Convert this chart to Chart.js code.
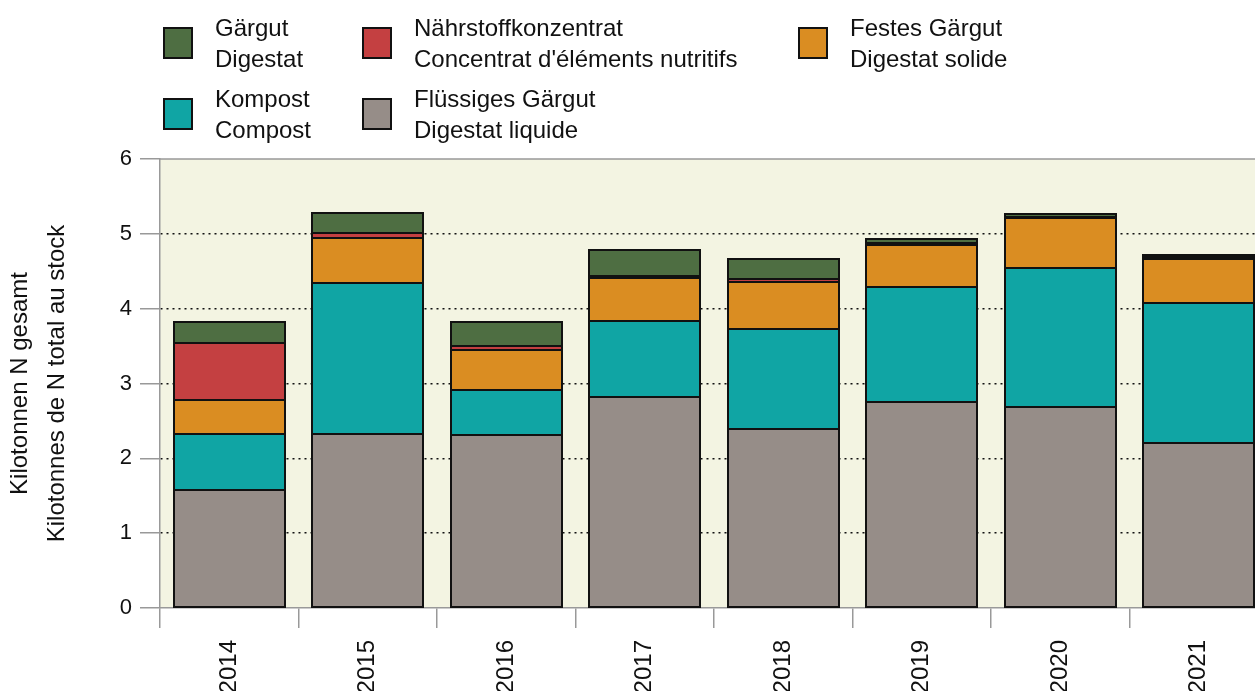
<!DOCTYPE html>
<html>
<head>
<meta charset="utf-8">
<script src="https://cdn.jsdelivr.net/npm/chart.js@4.4.1/dist/chart.umd.min.js"></script>
<style>
  body { margin: 0; overflow: hidden; background: #fff; font-family: "Liberation Sans", Arial, sans-serif; }
  #wrap { position: relative; width: 1270px; height: 691px; }
  #legend { position: absolute; left: 163px; top: 12px; display: grid;
            grid-template-columns: 199px 436px 300px; grid-auto-rows: 71px; }
  .item { display: flex; align-items: flex-start; }
  .sw { width: 26px; height: 28px; border: 2px solid #111; margin-top: 15px; margin-right: 22px; flex: none; }
  .txt { font-size: 24px; line-height: 31px; color: #111; white-space: nowrap; }
</style>
</head>
<body>
<div id="wrap">
  <canvas id="chart" width="1270" height="691"></canvas>
  <div id="legend"></div>
</div>
<script>
// years on the x axis
const years = ['2014', '2015', '2016', '2017', '2018', '2019', '2020', '2021']

// series, from bottom of the stack to the top (kilotonnes N)
const fluessig = [1.58, 2.32, 2.31, 2.82, 2.39, 2.75, 2.68, 2.21]
const kompost = [0.75, 2.02, 0.60, 1.02, 1.34, 1.54, 1.86, 1.87]
const festes = [0.45, 0.61, 0.54, 0.57, 0.63, 0.56, 0.67, 0.58]
const naehrstoff = [0.76, 0.06, 0.05, 0.03, 0.03, 0.03, 0.02, 0.03]
const gaergut = [0.28, 0.27, 0.32, 0.34, 0.28, 0.05, 0.03, 0.03]

// labels (German / French) in the same order
const labelsDe = ['Flüssiges Gärgut', 'Kompost', 'Festes Gärgut', 'Nährstoffkonzentrat', 'Gärgut']
const labelsFr = ['Digestat liquide', 'Compost', 'Digestat solide', "Concentrat d'éléments nutritifs", 'Digestat']
const colors = ['#968d88', '#10a5a4', '#da8d22', '#c44041', '#4e6e42']

const yTicks = [0, 1, 2, 3, 4, 5, 6]

const series = [fluessig, kompost, festes, naehrstoff, gaergut]
const family = '"Liberation Sans", Arial, sans-serif'

// plot background, top frame line and black outlines round every bar segment
const plotFrame = {
  id: 'plotFrame',
  beforeDraw(chart) {
    const { ctx, chartArea: a } = chart
    ctx.save()
    ctx.fillStyle = '#f3f4e2'
    ctx.fillRect(a.left, a.top, a.right - a.left, a.bottom - a.top)
    ctx.restore()
  },
  afterDatasetsDraw(chart) {
    const ctx = chart.ctx
    ctx.save()
    ctx.strokeStyle = '#111'
    ctx.lineWidth = 2
    chart.data.datasets.forEach((ds, i) => {
      chart.getDatasetMeta(i).data.forEach(bar => {
        const p = bar.getProps(['x', 'y', 'base', 'width'], true)
        const l = Math.round(p.x - p.width / 2)
        const r = Math.round(p.x + p.width / 2)
        const t = Math.round(Math.min(p.y, p.base))
        const b = Math.round(Math.max(p.y, p.base))
        ctx.strokeRect(l, t, r - l, b - t)
      })
    })
    ctx.restore()
  },
  afterDraw(chart) {
    const { ctx, chartArea: a } = chart
    ctx.save()
    ctx.strokeStyle = '#999'
    ctx.lineWidth = 1.5
    ctx.beginPath()
    ctx.moveTo(a.left, a.top)
    ctx.lineTo(a.right, a.top)
    ctx.stroke()
    ctx.restore()
  }
}

const chart = new Chart(document.querySelector('#chart'), {
  type: 'bar',
  data: {
    labels: years,
    datasets: series.map((d, i) => ({
      label: labelsDe[i] + ' / ' + labelsFr[i],
      data: d,
      backgroundColor: colors[i],
      borderWidth: 0,
      inflateAmount: 0,
      categoryPercentage: 0.8,
      barPercentage: 1
    }))
  },
  options: {
    responsive: false,
    animation: false,
    layout: { padding: { top: 159, left: 0, right: 2, bottom: 0 } },
    plugins: {
      legend: { display: false },
      tooltip: { enabled: false }
    },
    scales: {
      x: {
        stacked: true,
        grid: { drawOnChartArea: false, color: '#999', tickLength: 20, lineWidth: 1.5 },
        border: { color: '#999', width: 1.5 },
        ticks: { color: '#111', font: { family: family, size: 24 }, minRotation: 90, maxRotation: 90, padding: 12, autoSkip: false },
        afterFit(scale) { scale.height = 83 }
      },
      y: {
        stacked: true,
        min: 0,
        max: 6,
        afterBuildTicks(scale) { scale.ticks = yTicks.map(v => ({ value: v })) },
        grid: {
          color: ctx => (ctx.tick && (ctx.tick.value === 0 || ctx.tick.value === 6)) ? 'transparent' : '#111',
          lineWidth: 1.5,
          tickColor: '#999',
          tickLength: 20,
          tickWidth: 1.5
        },
        border: { color: '#999', width: 1.5, dash: [2, 4] },
        ticks: { color: '#111', font: { family: family, size: 22 }, padding: 8 },
        title: {
          display: true,
          text: ['Kilotonnen N gesamt', 'Kilotonnes de N total au stock'],
          color: '#111',
          font: { family: family, size: 24, lineHeight: 1.55 },
          padding: { top: 1.5, bottom: 0 }
        },
        afterFit(scale) { scale.width = 160 }
      }
    }
  },
  plugins: [plotFrame]
})

// legend: top of stack first
const legend = document.querySelector('#legend')
for (let i = series.length - 1; i >= 0; i--) {
  const item = document.createElement('div')
  item.className = 'item'
  item.innerHTML = '<div class="sw" style="background:' + colors[i] + '"></div>' +
    '<div class="txt">' + labelsDe[i] + '<br>' + labelsFr[i] + '</div>'
  legend.appendChild(item)
}
</script>
</body>
</html>
